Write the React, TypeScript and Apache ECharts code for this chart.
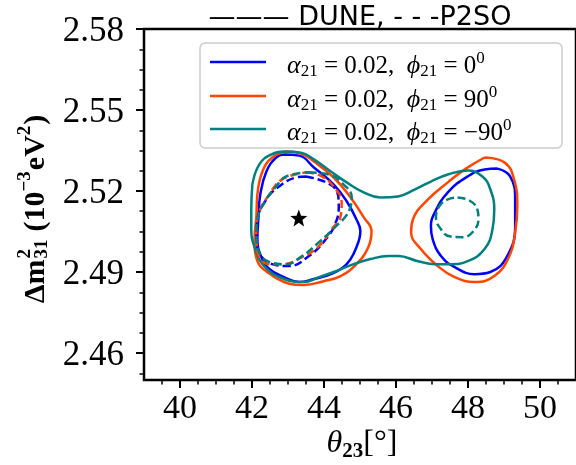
import React, { useEffect, useRef } from "react";
import * as echarts from "echarts";

// Axis ticks
const xTicks = [40, 42, 44, 46, 48, 50];
const xMinorTicks = [39.5, 40, 40.5, 41, 41.5, 42, 42.5, 43, 43.5, 44, 44.5, 45, 45.5, 46, 46.5, 47, 47.5, 48, 48.5, 49, 49.5, 50, 50.5];
const yTicks = [2.46, 2.49, 2.52, 2.55, 2.58];
const yMinorTicks = [2.4525, 2.46, 2.4675, 2.475, 2.4825, 2.49, 2.4975, 2.505, 2.5125, 2.52, 2.5275, 2.535, 2.5425, 2.55, 2.5575, 2.565, 2.5725, 2.58];

// DUNE (solid) contours
const blueSolidLeft = [
  [42.89, 2.5335], [43.31, 2.5331], [43.72, 2.5287], [44.27, 2.5224], [44.63, 2.5162],
  [44.9, 2.5095], [45.01, 2.5051], [44.9, 2.4992], [44.63, 2.4929], [44.19, 2.4892],
  [43.72, 2.4874], [43.31, 2.4863], [42.89, 2.4881], [42.48, 2.4911], [42.26, 2.4955],
  [42.15, 2.5021], [42.18, 2.5103], [42.23, 2.5187], [42.4, 2.5272], [42.67, 2.5324],
];
const blueSolidRight = [
  [48.82, 2.5283], [49.17, 2.5254], [49.31, 2.5169], [49.31, 2.5069], [49.09, 2.4959],
  [48.62, 2.49], [48.18, 2.4892], [47.63, 2.4918], [47.25, 2.4959], [47.02, 2.5021],
  [46.97, 2.5069], [47.08, 2.5121], [47.44, 2.5195], [47.99, 2.5254], [48.46, 2.528],
];
const orangeSolidLeft = [
  [42.95, 2.5346], [43.36, 2.5339], [43.72, 2.5309], [44.27, 2.525], [44.74, 2.5176],
  [45.1, 2.5103], [45.32, 2.5051], [45.23, 2.4992], [44.9, 2.4929], [44.46, 2.4885],
  [43.99, 2.4866], [43.44, 2.4852], [42.89, 2.4863], [42.42, 2.49], [42.15, 2.494],
  [42.07, 2.5021], [42.12, 2.5103], [42.15, 2.5187], [42.29, 2.5272], [42.56, 2.5324],
];
const orangeSolidRight = [
  [48.46, 2.5324], [49.01, 2.5306], [49.28, 2.5243], [49.37, 2.5143], [49.31, 2.5047],
  [49.15, 2.4959], [48.73, 2.4885], [48.18, 2.4863], [47.63, 2.4881], [47.16, 2.4922],
  [46.69, 2.4985], [46.42, 2.5047], [46.47, 2.5095], [46.89, 2.5169], [47.44, 2.5232],
  [47.91, 2.528],
];
const tealSolid = [
  [42.01, 2.5224], [42.2, 2.5298], [42.53, 2.5335], [42.89, 2.5346], [43.36, 2.5342],
  [43.72, 2.5317], [44.19, 2.5272], [44.63, 2.5232], [45.1, 2.5195], [45.56, 2.5176],
  [46.06, 2.518], [46.53, 2.5206], [46.97, 2.5235], [47.44, 2.5261], [47.99, 2.5276],
  [48.4, 2.5254], [48.62, 2.5206], [48.73, 2.5132], [48.68, 2.5058], [48.46, 2.4985],
  [47.99, 2.494], [47.52, 2.4929], [47.08, 2.4929], [46.61, 2.494], [46.06, 2.4959],
  [45.79, 2.4959], [45.29, 2.4948], [44.82, 2.4929], [44.27, 2.49], [43.86, 2.4881],
  [43.44, 2.4863], [42.89, 2.4874], [42.34, 2.4922], [42.09, 2.4985], [41.98, 2.5058],
  [41.98, 2.5132],
];

// P2SO (dashed) contours
const blueDashed = [
  [43.5, 2.5254], [44.33, 2.5206], [44.41, 2.5143], [44.33, 2.5084], [44.05, 2.5021],
  [43.58, 2.4959], [43.03, 2.4922], [42.56, 2.4929], [42.2, 2.4973], [42.12, 2.5032],
  [42.15, 2.5095], [42.4, 2.5169], [42.75, 2.5217], [43.22, 2.525],
];
const orangeDashed = [
  [43.5, 2.5269], [43.94, 2.5254], [44.33, 2.5206], [44.49, 2.5158], [44.46, 2.5106],
  [44.21, 2.5058], [43.86, 2.4996], [43.39, 2.4955], [42.84, 2.4929], [42.48, 2.4929],
  [42.15, 2.4977], [42.12, 2.5047], [42.2, 2.5121], [42.48, 2.5187], [42.84, 2.5243],
];
const tealDashedLeft = [
  [43.58, 2.5269], [44.13, 2.5261], [44.6, 2.5217], [44.77, 2.5176], [44.74, 2.5143],
  [44.6, 2.5106], [44.33, 2.5069], [43.86, 2.501], [43.39, 2.4959], [42.95, 2.4929],
  [42.48, 2.4937], [42.2, 2.4973], [42.12, 2.5032], [42.15, 2.5095], [42.4, 2.5169],
  [42.67, 2.5217], [42.95, 2.5254],
];
const tealDashedRight = [
  [47.71, 2.5176], [48.04, 2.5165], [48.26, 2.5132], [48.29, 2.5095], [48.15, 2.5051],
  [47.85, 2.5029], [47.49, 2.5032], [47.25, 2.5058], [47.11, 2.5103], [47.22, 2.5147],
  [47.44, 2.5169],
];

const bestFit = [[43.3, 2.51]];

const legendLabels = [
  "{i|α}{sub|21}{r| = 0.02,  }{i|ϕ}{sub|21}{r| = 0}{sup|0}",
  "{i|α}{sub|21}{r| = 0.02,  }{i|ϕ}{sub|21}{r| = 90}{sup|0}",
  "{i|α}{sub|21}{r| = 0.02,  }{i|ϕ}{sub|21}{r| = −90}{sup|0}",
];

const BLUE = "#0000ff";
const ORANGE = "#ff4500";
const TEAL = "#008080";
const legendColors = [BLUE, ORANGE, TEAL];

const closed = (pts: number[][]) => [...pts, pts[0]];

const STAR = "path://M12 1 L14.9 8.6 L23 9 L16.7 14.1 L18.8 22 L12 17.5 L5.2 22 L7.3 14.1 L1 9 L9.1 8.6 Z";

// pieces of the y-axis title
const yTitleMain = "Δm";
const yTitleSup = "2";
const yTitleSub = "31";
const yTitleRest: [string, string][] = [["(10", "n"], ["−3", "u"], ["eV", "n"], ["2", "u"], [")", "n"]];

export default function App() {
  const ref = useRef<HTMLDivElement>(null);
  useEffect(() => {
    if (!ref.current) return;
    const chart = echarts.init(ref.current, undefined, { renderer: "svg" });

    const ctx = document.createElement("canvas").getContext("2d")!;
    const BIG = 30;
    const SMALL = 19;
    const fontOf = (size: number) => `bold ${size}px "Liberation Serif"`;
    const measure = (t: string, size: number) => {
      ctx.font = fontOf(size);
      return ctx.measureText(t).width;
    };

    type Piece = { t: string; x: number; y: number; size: number };
    const pieces: Piece[] = [];
    let cx = 0;
    pieces.push({ t: yTitleMain, x: cx, y: 0, size: BIG });
    cx += measure(yTitleMain, BIG) + 1;
    pieces.push({ t: yTitleSup, x: cx, y: -10, size: SMALL });
    pieces.push({ t: yTitleSub, x: cx, y: 7, size: SMALL });
    cx += Math.max(measure(yTitleSup, SMALL), measure(yTitleSub, SMALL)) + 8;
    yTitleRest.forEach(([t, role]) => {
      const size = role === "n" ? BIG : SMALL;
      pieces.push({ t, x: cx, y: role === "u" ? -10 : 0, size });
      cx += measure(t, size) + (role === "u" ? 1 : 0);
    });
    const total = cx;
    const yTitleChildren = pieces.map((p) => ({
      type: "text",
      x: p.x - total / 2,
      y: p.y,
      style: {
        text: p.t,
        font: fontOf(p.size),
        fill: "#000",
        align: "left",
        verticalAlign: "middle",
      },
    }));

    const line = (data: number[][], color: string, dashed: boolean) => ({
      type: "line",
      data: closed(data),
      smooth: 0.45,
      symbol: "none",
      xAxisIndex: 0,
      yAxisIndex: 0,
      lineStyle: { color, width: 2.5, type: dashed ? [8, 4] : "solid" },
      silent: true,
    });

    const richMath = {
      i: { fontFamily: "Liberation Serif", fontStyle: "italic", fontSize: 26, lineHeight: 30, color: "#000" },
      r: { fontFamily: "Liberation Serif", fontSize: 25, lineHeight: 30, color: "#000" },
      sub: { fontFamily: "Liberation Serif", fontSize: 17, lineHeight: 14, verticalAlign: "bottom", color: "#000" },
      sup: { fontFamily: "Liberation Serif", fontSize: 17, lineHeight: 14, verticalAlign: "top", color: "#000" },
    };

    const legendY = [62, 96, 129];
    const legendGraphics: any[] = [
      {
        type: "rect",
        shape: { x: 200, y: 43, width: 362, height: 105, r: 5 },
        style: { fill: "rgba(255,255,255,0.85)", stroke: "#cccccc", lineWidth: 1.5 },
        z: 10,
      },
    ];
    legendLabels.forEach((lab, k) => {
      legendGraphics.push({
        type: "line",
        shape: { x1: 210, y1: legendY[k], x2: 266, y2: legendY[k] },
        style: { stroke: legendColors[k], lineWidth: 2.5 },
        z: 11,
      });
      legendGraphics.push({
        type: "text",
        x: 287,
        y: legendY[k] + 2,
        style: { text: lab, rich: richMath, align: "left", verticalAlign: "middle" },
        z: 11,
      });
    });

    chart.setOption({
      animation: false,
      grid: {
        left: 144,
        right: -3,
        top: 29,
        bottom: 85,
        show: true,
        borderColor: "#000",
        borderWidth: 2.5,
        backgroundColor: "transparent",
      },
      xAxis: [
        {
          type: "value",
          min: 39,
          max: 51,
          axisLine: { show: false },
          splitLine: { show: false },
          axisTick: { customValues: xTicks, length: 8, lineStyle: { color: "#000", width: 2 } },
          axisLabel: {
            customValues: xTicks,
            fontFamily: "Liberation Serif",
            fontSize: 34,
            color: "#000",
            margin: 9,
          },
        },
        {
          type: "value",
          min: 39,
          max: 51,
          position: "bottom",
          axisLine: { show: false },
          splitLine: { show: false },
          axisTick: { customValues: xMinorTicks, length: 4.5, lineStyle: { color: "#000", width: 1.5 } },
          axisLabel: { show: false },
        },
      ],
      yAxis: [
        {
          type: "value",
          min: 2.45,
          max: 2.58,
          axisLine: { show: false },
          splitLine: { show: false },
          axisTick: { customValues: yTicks, length: 8, lineStyle: { color: "#000", width: 2 } },
          axisLabel: {
            customValues: yTicks,
            fontFamily: "Liberation Serif",
            fontSize: 35,
            color: "#000",
            margin: 20,
            formatter: (v: number) => v.toFixed(2),
          },
        },
        {
          type: "value",
          min: 2.45,
          max: 2.58,
          position: "left",
          axisLine: { show: false },
          splitLine: { show: false },
          axisTick: { customValues: yMinorTicks, length: 4.5, lineStyle: { color: "#000", width: 1.5 } },
          axisLabel: { show: false },
        },
      ],
      series: [
        line(blueSolidLeft, BLUE, false),
        line(blueSolidRight, BLUE, false),
        line(orangeSolidLeft, ORANGE, false),
        line(orangeSolidRight, ORANGE, false),
        line(tealSolid, TEAL, false),
        line(blueDashed, BLUE, true),
        line(orangeDashed, ORANGE, true),
        line(tealDashedLeft, TEAL, true),
        line(tealDashedRight, TEAL, true),
        {
          type: "scatter",
          data: bestFit,
          symbol: STAR,
          symbolSize: 17,
          itemStyle: { color: "#000", opacity: 1 },
          silent: true,
          z: 5,
        },
      ],
      graphic: [
        {
          type: "text",
          x: 360,
          y: 15,
          style: {
            text: "——— DUNE, - - -P2SO",
            fontFamily: "DejaVu Sans",
            fontSize: 27,
            lineHeight: 28,
            fill: "#000",
            align: "center",
            verticalAlign: "middle",
          },
        },
        ...legendGraphics,
        {
          type: "group",
          x: 33,
          y: 209,
          rotation: Math.PI / 2,
          children: yTitleChildren,
        },
        {
          type: "text",
          x: 362,
          y: 441,
          style: {
            text: "{i|θ}{sub|23}{r|[°]}",
            align: "center",
            verticalAlign: "middle",
            rich: {
              i: { fontFamily: "Liberation Serif", fontStyle: "italic", fontSize: 32, lineHeight: 38, color: "#000" },
              r: { fontFamily: "Liberation Serif", fontSize: 32, lineHeight: 38, color: "#000" },
              sub: { fontFamily: "Liberation Serif", fontWeight: "bold", fontSize: 21, lineHeight: 18, verticalAlign: "bottom", color: "#000" },
            },
          },
        },
      ],
    });
    return () => chart.dispose();
  }, []);
  return <div ref={ref} style={{ position: "fixed", left: 0, top: 0, width: 576, height: 465 }} />;
}
